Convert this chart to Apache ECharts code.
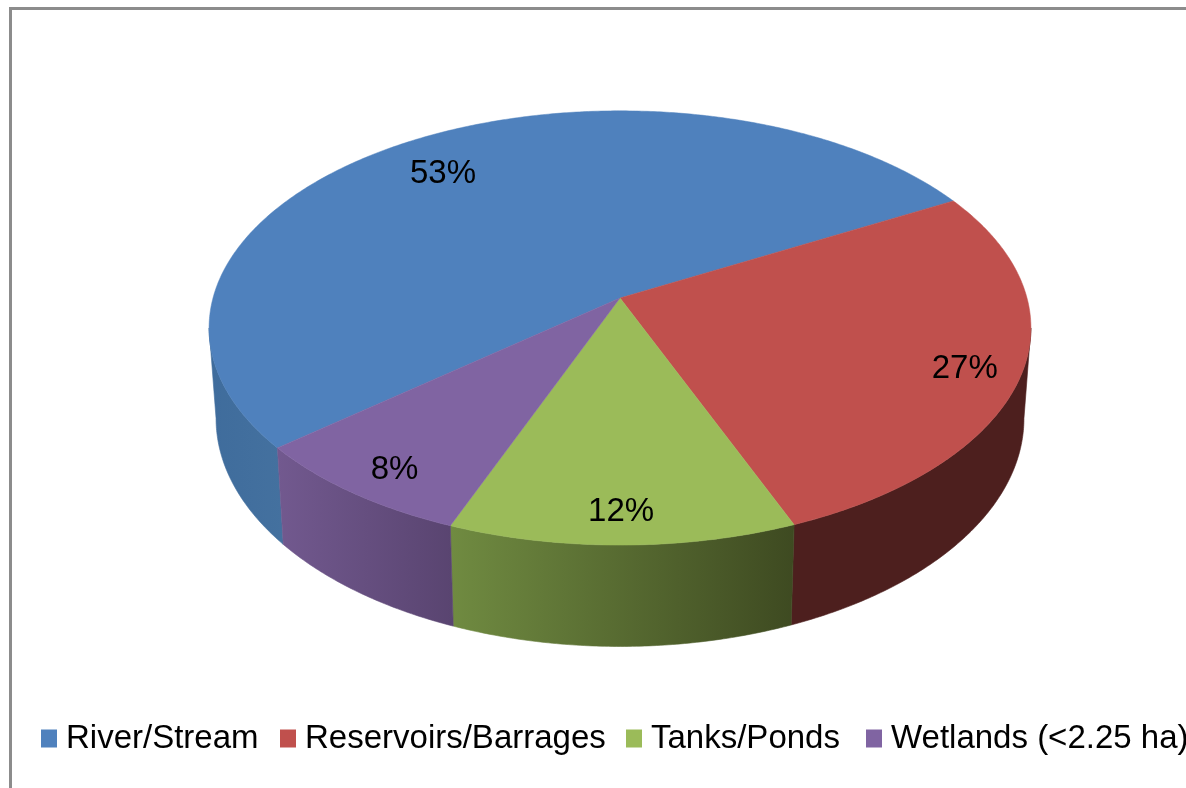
<!DOCTYPE html>
<html>
<head>
<meta charset="utf-8">
<style>html,body{margin:0;padding:0;background:#fff;overflow:hidden}#c{width:1186px;height:788px}</style>
<script src="https://cdn.jsdelivr.net/npm/echarts@6/dist/echarts.min.js"></script>
</head>
<body>
<div id="c"></div>
<script>
const categories = ['River/Stream', 'Reservoirs/Barrages', 'Tanks/Ponds', 'Wetlands (<2.25 ha)'];
const shares = [53, 27, 12, 8];
const topColors = ['#4F81BD', '#C0504D', '#9BBB59', '#8064A2'];
const wallFrom = ['#3F6C9C', '#4D1F1E', '#708B41', '#72598F'];
const wallTo = ['#44719F', '#4D1F1E', '#3E4A21', '#594470'];
const legendLeft = [36, 275, 621, 861];
const labelFraction = [0.8, 0.87, 0.875, 0.875];
const labelNudge = [[-8, 5], [-3, 6], [-1, 2], [5, 4]];

// Perspective model of the tilted disc (pixels)
const apexX = 620, apexY = 298, radiusX = 407, radiusY = 213, persp = 0.138;
const floorScaleX = 0.983, floorScaleY = 1.05, floorDrop = 89;
const startDeg = 219.9;   // clockwise from the blue slice's first edge
const total = shares.reduce((a, b) => a + b, 0);

function project(deg, r) {
  const t = deg * Math.PI / 180;
  const X = r * Math.cos(t), Y = r * Math.sin(t), w = 1 + persp * Y;
  return [apexX + radiusX * X / w, apexY - radiusY * Y / w];
}
function toFloor(p) {
  return [apexX + (p[0] - apexX) * floorScaleX, apexY + floorDrop + (p[1] - apexY) * floorScaleY];
}
function arc(from, to) {
  const n = Math.max(2, Math.ceil(Math.abs(from - to) * 2)), pts = [];
  for (let i = 0; i <= n; i++) pts.push(project(from + (to - from) * i / n, 1));
  return pts;
}
// The part of a clockwise sweep [a -> b] (b<a) lying on the front of the disc
function frontRange(a, b) {
  const tangent = Math.asin(persp) * 180 / Math.PI;
  const frontHi = -tangent, frontLo = -180 + tangent;
  for (const k of [0, -360, 360]) {
    const hi = Math.min(a + k, frontHi), lo = Math.max(b + k, frontLo);
    if (hi > lo) return [hi, lo];
  }
  return null;
}
function sliceItem(i) {
  return function (params, api) {
    const before = shares.slice(0, i).reduce((a, b) => a + b, 0);
    const a0 = startDeg - before / total * 360;
    const a1 = a0 - api.value(0) / total * 360;
    const children = [];
    const fr = frontRange(a0, a1);
    if (fr) {
      const upper = arc(fr[0], fr[1]);
      const lower = upper.map(toFloor).reverse();
      const fill = { type: 'linear', x: 0, y: 0, x2: 1, y2: 0,
        colorStops: [{ offset: 0, color: wallFrom[i] }, { offset: 1, color: wallTo[i] }] };
      children.push({ type: 'polygon', shape: { points: upper.concat(lower) },
        style: { fill: fill, stroke: fill, lineWidth: 0.6 } });
    }
    children.push({ type: 'polygon', shape: { points: [[apexX, apexY]].concat(arc(a0, a1)) },
      style: { fill: topColors[i], stroke: topColors[i], lineWidth: 0.5 } });
    const lp = project((a0 + a1) / 2, labelFraction[i]);
    children.push({ type: 'text', z2: 10, style: {
      text: api.value(0) + '%', x: lp[0] + labelNudge[i][0], y: lp[1] + labelNudge[i][1], fontSize: 33,
      fontFamily: '"Liberation Sans", Arial, sans-serif', fill: '#000',
      align: 'center', verticalAlign: 'middle' } });
    return { type: 'group', children: children };
  };
}

const chart = echarts.init(document.getElementById('c'), null, { renderer: 'canvas' });
chart.setOption({
  animation: false,
  backgroundColor: '#fff',
  tooltip: { show: false },
  legend: categories.map((name, i) => ({
    data: [name], left: legendLeft[i], top: 717, orient: 'horizontal',
    icon: 'rect', itemWidth: 16, itemHeight: 18, selectedMode: false,
    textStyle: { fontSize: 33, color: '#000', padding: [0, 0, 0, 4],
      fontFamily: '"Liberation Sans", Arial, sans-serif' }
  })),
  graphic: [{ type: 'polyline', silent: true,
    shape: { points: [[10.5, 788], [10.5, 8.5], [1186, 8.5]] },
    style: { stroke: '#8C8C8C', lineWidth: 3, fill: 'none' } }],
  series: categories.map((name, i) => ({
    type: 'custom', name: name, coordinateSystem: 'none', silent: true,
    itemStyle: { color: topColors[i] },
    data: [shares[i]],
    renderItem: sliceItem(i)
  }))
});
</script>
</body>
</html>
